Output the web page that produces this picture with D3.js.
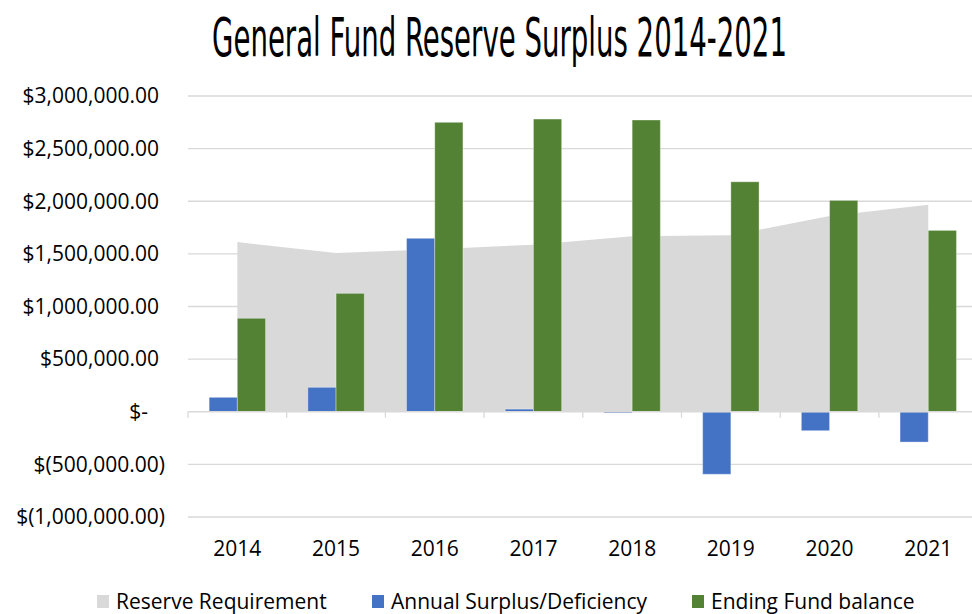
<!DOCTYPE html>
<html>
<head>
<meta charset="utf-8">
<script src="https://cdn.jsdelivr.net/npm/d3@7"></script>
<style>
  html, body { margin: 0; padding: 0; background: #fff; }
  svg { display: block; }
</style>
</head>
<body>
<svg id="chart" width="972" height="614"></svg>
<script>
// ---- data ----
const years = ["2014", "2015", "2016", "2017", "2018", "2019", "2020", "2021"];
const reserveRequirement = [1612000, 1508000, 1545000, 1587000, 1668000, 1676000, 1861000, 1966000];
const annualSurplus = [137000, 232000, 1648000, 25000, -12000, -594000, -180000, -288000];
const endingBalance = [888000, 1125000, 2750000, 2781000, 2772000, 2185000, 2008000, 1723000];
const yTicks = [-1000000, -500000, 0, 500000, 1000000, 1500000, 2000000, 2500000, 3000000];
const yTickLabels = ["$(1,000,000.00)", "$(500,000.00)", "$-", "$500,000.00", "$1,000,000.00",
                     "$1,500,000.00", "$2,000,000.00", "$2,500,000.00", "$3,000,000.00"];
const legendLabels = ["Reserve Requirement", "Annual Surplus/Deficiency", "Ending Fund balance"];
const colors = { reserve: "#D9D9D9", surplus: "#4472C4", balance: "#548235", grid: "#D9D9D9" };

const svg = d3.select("#chart");
const FONT = "'Open Sans', 'Liberation Sans', sans-serif";
const FS = 21;

// ---- scales ----
const plotLeft = 188, bandW = 98.7;
const x = d3.scaleBand().domain(years).range([plotLeft, plotLeft + bandW * years.length]).padding(0);
const y = d3.scaleLinear().domain([-1000000, 3000000]).range([517, 96]);
const barW = 28.2;
const inner = d3.scaleBand().domain(["surplus", "balance"]).range([-barW, barW]).padding(0);
const cx = d => x(d) + x.bandwidth() / 2;

// ---- title (condensed by a horizontal scale to its set width) ----
const titleG = svg.append("g");
const title = titleG.append("text")
  .attr("x", 0).attr("y", 0)
  .attr("text-anchor", "middle")
  .attr("font-family", "'Liberation Sans Narrow', 'DejaVu Sans Condensed', sans-serif")
  .attr("font-size", 54)
  .attr("fill", "#000")
  .text("General Fund Reserve Surplus 2014-2021");
const naturalW = title.node().getComputedTextLength();
titleG.attr("transform", `translate(499.5,56) scale(${575 / naturalW},1)`);

// ---- gridlines ----
svg.append("g").selectAll("line")
  .data(yTicks.filter(t => t !== 0))
  .join("line")
  .attr("x1", plotLeft).attr("x2", 972)
  .attr("y1", d => y(d)).attr("y2", d => y(d))
  .attr("stroke", colors.grid).attr("stroke-width", 1.3);

// ---- y labels ----
svg.append("g").selectAll("text")
  .data(yTicks)
  .join("text")
  .attr("x", (d, i) => {
    const s = yTickLabels[i];
    if (s === "$-") return 148;
    return s.endsWith(")") ? 165 : 159;
  })
  .attr("y", d => y(d))
  .attr("dy", "0.35em")
  .attr("text-anchor", "end")
  .attr("font-family", FONT)
  .attr("font-size", FS)
  .attr("fill", "#000")
  .text((d, i) => yTickLabels[i]);

// ---- reserve requirement area ----
const area = d3.area()
  .x((d, i) => cx(years[i]))
  .y0(y(0))
  .y1(d => y(d));
svg.append("path")
  .datum(reserveRequirement)
  .attr("d", area)
  .attr("fill", colors.reserve);

// ---- bars ----
const barData = [];
years.forEach((yr, i) => {
  barData.push({ year: yr, key: "surplus", v: annualSurplus[i] });
  barData.push({ year: yr, key: "balance", v: endingBalance[i] });
});
svg.append("g").selectAll("rect")
  .data(barData)
  .join("rect")
  .attr("x", d => cx(d.year) + inner(d.key))
  .attr("width", inner.bandwidth())
  .attr("y", d => y(Math.max(0, d.v)))
  .attr("height", d => Math.abs(y(d.v) - y(0)))
  .attr("fill", d => colors[d.key])
  .attr("stroke", "rgba(255,255,255,0.35)")
  .attr("stroke-width", 1);

// ---- category axis at zero ----
const axisG = svg.append("g");
axisG.append("line")
  .attr("x1", plotLeft).attr("x2", 972)
  .attr("y1", y(0)).attr("y2", y(0))
  .attr("stroke", colors.grid).attr("stroke-width", 1.3);
axisG.selectAll("line.tick")
  .data(d3.range(years.length + 1))
  .join("line")
  .attr("class", "tick")
  .attr("x1", i => plotLeft + i * x.bandwidth())
  .attr("x2", i => plotLeft + i * x.bandwidth())
  .attr("y1", y(0)).attr("y2", y(0) + 6)
  .attr("stroke", colors.grid).attr("stroke-width", 1.3);

svg.append("g").selectAll("text")
  .data(years)
  .join("text")
  .attr("x", d => cx(d))
  .attr("y", 556)
  .attr("text-anchor", "middle")
  .attr("font-family", FONT)
  .attr("font-size", FS)
  .attr("fill", "#000")
  .text(d => d);

// ---- legend ----
const legendItems = [
  { label: legendLabels[0], color: colors.reserve, x: 97 },
  { label: legendLabels[1], color: colors.surplus, x: 372 },
  { label: legendLabels[2], color: colors.balance, x: 692 }
];
const lg = svg.append("g").selectAll("g")
  .data(legendItems)
  .join("g")
  .attr("transform", d => `translate(${d.x},0)`);
lg.append("rect")
  .attr("x", 0).attr("y", 595)
  .attr("width", 12).attr("height", 13)
  .attr("fill", d => d.color);
lg.append("text")
  .attr("x", 19).attr("y", 609)
  .attr("font-family", FONT)
  .attr("font-size", FS)
  .attr("fill", "#000")
  .text(d => d.label);
</script>
</body>
</html>
